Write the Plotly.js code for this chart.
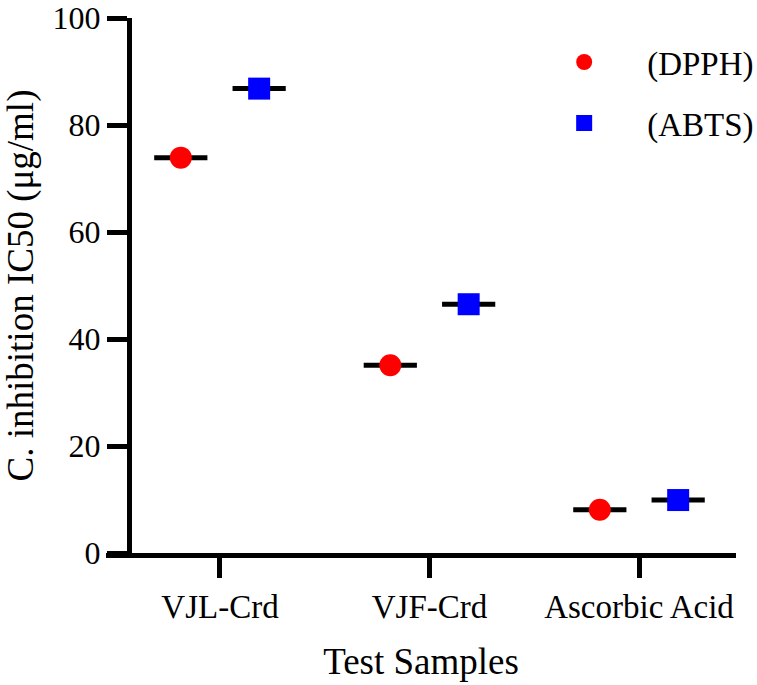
<!DOCTYPE html>
<html>
<head>
<meta charset="utf-8">
<script src="https://cdn.plot.ly/plotly-3.0.1.min.js"></script>
<style>html,body{margin:0;padding:0;background:#fff;}#chart{width:757px;height:685px;}</style>
</head>
<body>
<div id="chart"></div>
<script>
var categories = ['VJL-Crd', 'VJF-Crd', 'Ascorbic Acid'];
var dpph = [73.9, 35.1, 8.1];
var abts = [86.8, 46.5, 9.9];
var seriesNames = ['(DPPH)', '(ABTS)'];
var yTickVals = [0, 20, 40, 60, 80, 100];

var FONT = '"Liberation Serif", "Times New Roman", Times, serif';
var idx = categories.map(function (c, i) { return i; });
var off = 0.187;
var xD = idx.map(function (i) { return i - off; });
var xA = idx.map(function (i) { return i + off; });

var traces = [
  {x: xD, y: dpph, type: 'scatter', mode: 'markers', showlegend: false, hoverinfo: 'skip',
   marker: {symbol: 'line-ew', size: 38, line: {width: 5, color: '#000'}}},
  {x: xA, y: abts, type: 'scatter', mode: 'markers', showlegend: false, hoverinfo: 'skip',
   marker: {symbol: 'line-ew', size: 38, line: {width: 5, color: '#000'}}},
  {x: xD, y: dpph, type: 'scatter', mode: 'markers', name: seriesNames[0], legendgroup: 'a',
   marker: {symbol: 'circle', size: 22, color: '#FF0000', line: {width: 0}}},
  {x: xA, y: abts, type: 'scatter', mode: 'markers', name: seriesNames[1], legendgroup: 'b',
   marker: {symbol: 'square', size: 22, color: '#0000FF', line: {width: 0}}}
];

var layout = {
  width: 757, height: 685,
  paper_bgcolor: '#fff', plot_bgcolor: '#fff',
  margin: {l: 106, r: 21, t: 18, b: 132, pad: 0, autoexpand: false},
  font: {family: FONT, color: '#000', size: 33},
  showlegend: true,
  legend: {x: 0.659, y: 0.97, xanchor: 'left', yanchor: 'top', bgcolor: 'rgba(0,0,0,0)',
           font: {family: FONT, size: 33, color: '#000'}, itemwidth: 116,
           traceorder: 'grouped', tracegroupgap: 15},
  xaxis: {
    range: [-0.544, 2.463], tickmode: 'array', tickvals: idx, ticktext: categories,
    showline: true, linewidth: 5, linecolor: '#000', mirror: false,
    ticks: 'outside', ticklen: 20, tickwidth: 5, tickcolor: '#000',
    showgrid: false, zeroline: false, ticklabeloverflow: 'allow', automargin: false,
    tickfont: {family: FONT, size: 33, color: '#000'},
    title: {text: 'Test Samples', font: {family: FONT, size: 37, color: '#000'}, standoff: 26}
  },
  yaxis: {
    range: [0, 100], anchor: 'free', position: 0.0365, automargin: false,
    tickmode: 'array', tickvals: yTickVals,
    showline: true, linewidth: 5, linecolor: '#000',
    ticks: 'outside', ticklen: 20, tickwidth: 5, tickcolor: '#000',
    showgrid: false, zeroline: false, ticklabeloverflow: 'allow',
    tickfont: {family: FONT, size: 32, color: '#000'},
    title: {text: 'C. inhibition IC50 (μg/ml)', font: {family: FONT, size: 37, color: '#000'}, standoff: 10}
  }
};

Plotly.newPlot('chart', traces, layout, {displayModeBar: false, staticPlot: true});
</script>
</body>
</html>
